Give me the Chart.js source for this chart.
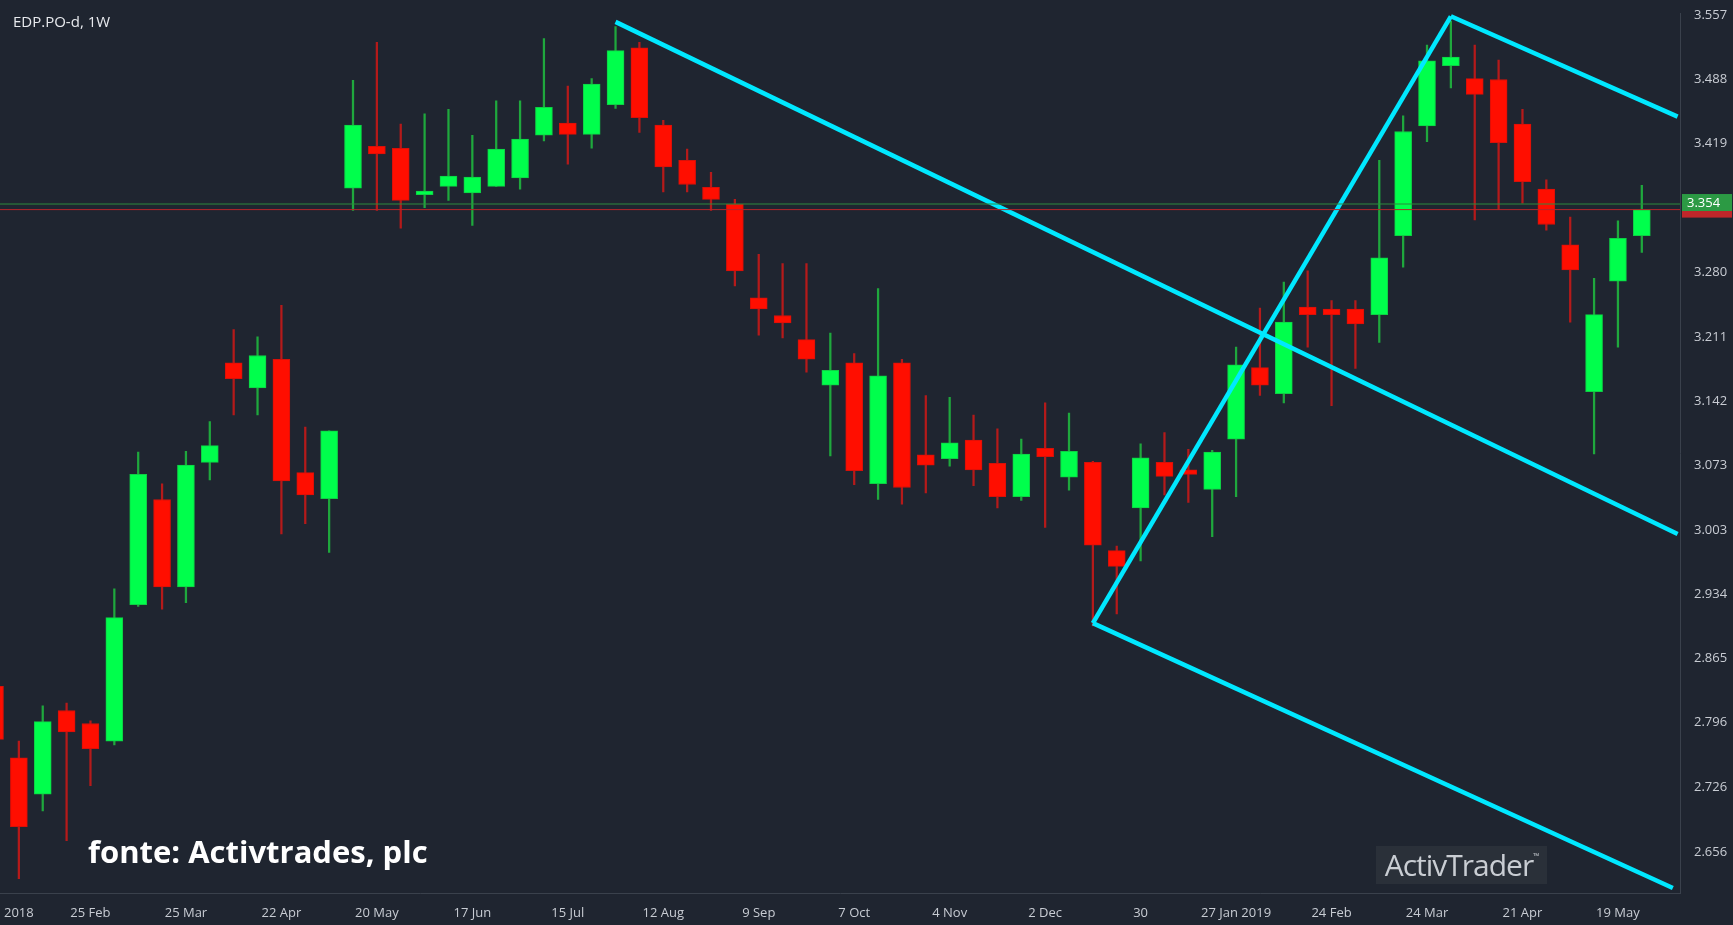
<!DOCTYPE html>
<html>
<head>
<meta charset="utf-8">
<script src="https://cdn.jsdelivr.net/npm/chart.js@4.4.1/dist/chart.umd.min.js"></script>
<style>
  html, body { margin: 0; padding: 0; background: #1f2530; overflow: hidden; }
  #wrap { position: relative; width: 1733px; height: 925px; }
  #title { position: absolute; left: 13px; top: 11px; color: #e8eaee; font: 15px "Open Sans", sans-serif; }
  #fonte { position: absolute; left: 88px; top: 830px; color: #ffffff; font: bold 31px "Open Sans", sans-serif; }
  #brand { position: absolute; left: 1376px; top: 846px; width: 171px; height: 38px; background: #2a3039;
           color: #c9cdd3; font: 30px "Open Sans", sans-serif; line-height: 38px; text-align: center; letter-spacing: -1px; }
  #brand sup { font-size: 8px; vertical-align: top; line-height: 20px; }
</style>
</head>
<body>
<div id="wrap">
  <canvas id="chart" width="1733" height="925"></canvas>
  <div id="title">EDP.PO-d, 1W</div>
  <div id="fonte">fonte: Activtrades, plc</div>
  <div id="brand">ActivTrader<sup>™</sup></div>
</div>
<script>
// velas semanais: abertura, máximo, mínimo, fecho
const opens  = [2.835,2.758,2.719,2.809,2.795,2.776,2.923,3.036,2.942,3.076,3.183,3.156,3.187,3.065,3.037,3.371,3.416,3.414,3.364,3.373,
                3.366,3.373,3.382,3.428,3.441,3.429,3.461,3.522,3.439,3.401,3.372,3.354,3.253,3.234,3.208,3.159,3.183,3.053,3.183,3.084,
                3.080,3.100,3.075,3.039,3.091,3.060,3.076,2.981,3.027,3.076,3.068,3.047,3.101,3.178,3.150,3.243,3.241,3.241,3.235,3.320,
                3.438,3.503,3.489,3.488,3.440,3.370,3.310,3.152,3.271,3.320];
const highs  = [2.850,2.776,2.814,2.817,2.798,2.940,3.087,3.053,3.088,3.120,3.219,3.211,3.245,3.114,3.110,3.487,3.528,3.440,3.451,3.456,
                3.428,3.465,3.465,3.532,3.481,3.489,3.545,3.528,3.444,3.413,3.388,3.359,3.300,3.290,3.290,3.215,3.193,3.263,3.187,3.148,
                3.146,3.127,3.112,3.101,3.140,3.129,3.077,2.986,3.096,3.108,3.090,3.089,3.200,3.242,3.270,3.282,3.250,3.250,3.401,3.449,
                3.525,3.551,3.525,3.509,3.456,3.380,3.340,3.274,3.336,3.374];
const lows   = [2.760,2.628,2.701,2.669,2.728,2.772,2.921,2.918,2.925,3.057,3.127,3.127,2.999,3.010,2.979,3.347,3.347,3.328,3.350,3.358,
                3.331,3.373,3.370,3.422,3.397,3.414,3.457,3.431,3.367,3.367,3.347,3.266,3.213,3.210,3.173,3.083,3.052,3.036,3.031,3.043,
                3.072,3.051,3.027,3.035,3.006,3.046,2.900,2.913,2.970,3.041,3.033,2.996,3.039,3.148,3.140,3.200,3.137,3.177,3.205,3.286,
                3.421,3.479,3.337,3.348,3.355,3.326,3.227,3.085,3.200,3.302];
const closes = [2.778,2.684,2.797,2.786,2.768,2.909,3.063,2.942,3.073,3.094,3.166,3.191,3.056,3.041,3.110,3.439,3.408,3.358,3.368,3.384,
                3.383,3.413,3.424,3.458,3.429,3.483,3.519,3.447,3.394,3.375,3.359,3.282,3.241,3.226,3.187,3.175,3.067,3.169,3.049,3.073,
                3.097,3.068,3.039,3.085,3.082,3.088,2.987,2.964,3.081,3.061,3.063,3.087,3.181,3.159,3.227,3.235,3.235,3.225,3.296,3.432,
                3.508,3.512,3.472,3.420,3.378,3.332,3.283,3.235,3.317,3.348];

// eixo do tempo (índice da semana) e eixo de preços
const dateTickPos = [1, 4, 8, 12, 16, 20, 24, 28, 32, 36, 40, 44, 48, 52, 56, 60, 64, 68];
const dateTickLabels = ['2018','25 Feb','25 Mar','22 Apr','20 May','17 Jun','15 Jul','12 Aug','9 Sep','7 Oct',
                        '4 Nov','2 Dec','30','27 Jan 2019','24 Feb','24 Mar','21 Apr','19 May'];
const priceTicks = [3.557, 3.488, 3.419, 3.280, 3.211, 3.142, 3.073, 3.003, 2.934, 2.865, 2.796, 2.726, 2.656];
const lastPrice = 3.354;
const bidPrice = 3.348;

// linhas de tendência desenhadas à mão: [índice, preço]
const trendA = [[26.0, 3.550], [70.5, 2.999]];
const trendB = [[61.0, 3.556], [70.5, 3.448]];
const trendC = [[46.0, 2.903], [61.0, 3.556]];
const trendD = [[46.0, 2.903], [70.3, 2.618]];

const GREEN = '#00ff4c', RED = '#ff0e00';
const GREEN_WICK = '#1fa83d', RED_WICK = '#b51a1a';

const up = closes.map((c, i) => c >= opens[i]);
const bodies = opens.map((o, i) => ({ x: i, y: [o, closes[i]] }));
const wicks = highs.map((h, i) => ({ x: i, y: [lows[i], h] }));
const toXY = arr => arr.map(p => ({ x: p[0], y: p[1] }));

const trendStyle = {
    type: 'line', borderColor: '#00e8ff', borderWidth: 4.5, pointRadius: 0,
    fill: false, tension: 0, order: 0
};

const lastPricePlugin = {
    id: 'lastPrice',
    afterDraw(chart) {
        const ctx = chart.ctx;
        const ys = chart.scales.y;
        const area = chart.chartArea;
        const yl = ys.getPixelForValue(lastPrice);
        const yb = ys.getPixelForValue(bidPrice);
        ctx.save();
        ctx.lineWidth = 1;
        ctx.strokeStyle = '#2e8a3e';
        ctx.beginPath(); ctx.moveTo(area.left, yl); ctx.lineTo(area.right, yl); ctx.stroke();
        ctx.strokeStyle = '#b3262a';
        ctx.beginPath(); ctx.moveTo(area.left, yb); ctx.lineTo(area.right, yb); ctx.stroke();
        // etiqueta do último preço
        ctx.fillStyle = '#c0262a';
        ctx.fillRect(area.right + 2, yb - 4, 50, 12);
        ctx.fillStyle = '#2c9a44';
        ctx.fillRect(area.right + 2, yl - 10, 50, 17);
        ctx.fillStyle = '#ffffff';
        ctx.font = '13px "Open Sans", sans-serif';
        ctx.textAlign = 'left';
        ctx.textBaseline = 'middle';
        ctx.fillText('3.354', area.right + 7, yl - 1);
        ctx.restore();
    }
};

new Chart(document.getElementById('chart').getContext('2d'), {
    type: 'bar',
    data: {
        datasets: [
            Object.assign({}, trendStyle, { data: toXY(trendA) }),
            Object.assign({}, trendStyle, { data: toXY(trendB) }),
            Object.assign({}, trendStyle, { data: toXY(trendC) }),
            Object.assign({}, trendStyle, { data: toXY(trendD) }),
            {
                data: bodies, grouped: false, barThickness: 17, order: 1,
                backgroundColor: up.map(u => u ? GREEN : RED),
                borderColor: up.map(u => u ? '#0fcf45' : '#d81008'),
                borderWidth: 1, borderSkipped: false
            },
            {
                data: wicks, grouped: false, barThickness: 1.6, order: 2,
                backgroundColor: up.map(u => u ? GREEN_WICK : RED_WICK)
            }
        ]
    },
    options: {
        responsive: false,
        animation: false,
        layout: { padding: 0 },
        plugins: { legend: { display: false }, tooltip: { enabled: false } },
        scales: {
            x: {
                type: 'linear', min: 0.21, max: 70.6, offset: false,
                grid: { display: false },
                border: { display: true, color: '#3a414c' },
                afterBuildTicks: s => { s.ticks = dateTickPos.map(v => ({ value: v })); },
                afterFit: s => { s.height = 32; },
                ticks: {
                    color: '#c8ccd3', font: { size: 13, family: '"Open Sans", sans-serif' },
                    maxRotation: 0, autoSkip: false, padding: 4,
                    callback: v => dateTickLabels[dateTickPos.indexOf(v)]
                }
            },
            y: {
                position: 'right', min: 2.6126, max: 3.5587,
                grid: { display: false },
                border: { display: true, color: '#3a414c' },
                afterBuildTicks: s => { s.ticks = priceTicks.map(v => ({ value: v })); },
                afterFit: s => { s.width = 53; },
                ticks: {
                    color: '#c8ccd3', font: { size: 13, family: '"Open Sans", sans-serif' },
                    padding: 6, callback: v => v.toFixed(3)
                }
            }
        }
    },
    plugins: [lastPricePlugin]
});
</script>
</body>
</html>
